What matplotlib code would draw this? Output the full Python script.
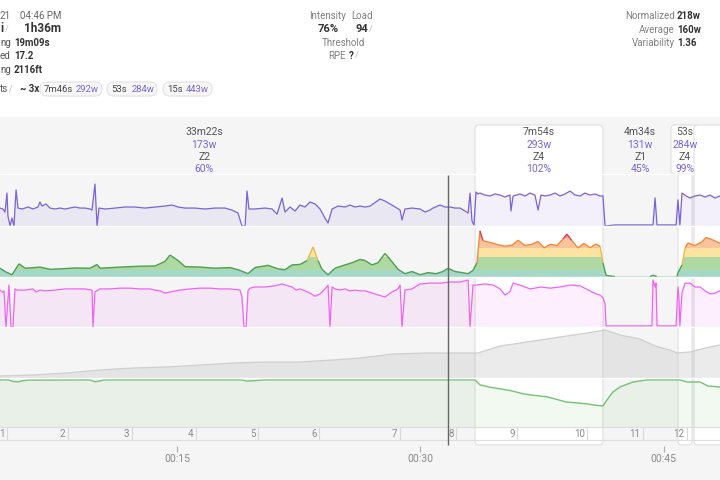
import numpy as np
import matplotlib
matplotlib.use('Agg')
from matplotlib import pyplot
from matplotlib.patches import FancyBboxPatch, Polygon
from matplotlib.collections import LineCollection

# time axis is elapsed minutes
power_t = [4.10, 4.28, 4.41, 4.53, 4.59, 4.72, 4.84, 4.96, 5.09, 5.21,
           5.46, 5.83, 6.13, 6.44, 6.56, 6.69, 6.93, 7.18, 7.49, 7.80,
           8.10, 8.41, 8.72, 9.03, 9.34, 9.65, 9.77, 9.95, 10.08, 10.20,
           10.57, 11.19, 11.80, 12.42, 13.03, 13.65, 14.27, 14.70, 15.07, 15.50,
           16.11, 16.73, 17.35, 17.96, 18.39, 18.76, 19.01, 19.20, 19.32, 19.44,
           19.81, 20.43, 20.86, 21.17, 21.48, 21.66, 21.97, 22.28, 22.58, 22.89,
           23.20, 23.51, 23.82, 24.12, 24.31, 24.56, 24.93, 25.36, 25.66, 25.97,
           26.28, 26.59, 26.90, 27.51, 27.82, 28.25, 28.75, 28.87, 29.05, 29.48,
           29.98, 30.29, 30.59, 30.78, 31.21, 31.52, 31.83, 32.13, 32.44, 32.75,
           32.94, 33.06, 33.18, 33.30, 33.43, 33.55, 33.67, 33.98, 34.29, 34.60,
           34.91, 35.21, 35.52, 35.58, 35.71, 36.14, 36.45, 36.76, 37.06, 37.25,
           37.43, 37.68, 37.99, 38.30, 38.60, 38.91, 39.22, 39.53, 39.84, 40.14,
           40.45, 40.76, 41.07, 41.25, 41.38, 41.99, 44.15, 44.33, 44.46, 44.58,
           45.75, 45.87, 45.99, 46.12, 46.37, 46.61, 46.92, 47.23, 47.54, 47.85,
           48.15, 48.46]
power_w = [171, 162, 133, 314, 95, 0, 76, 0, 343, 171,
           162, 181, 162, 181, 229, 190, 210, 171, 162, 171,
           162, 171, 181, 171, 171, 162, 152, 400, 0, 171,
           162, 171, 181, 181, 171, 181, 190, 200, 181, 171,
           171, 162, 171, 171, 152, 124, 0, 0, 333, 162,
           162, 171, 162, 114, 267, 133, 181, 143, 200, 181,
           229, 210, 162, 76, 29, 162, 190, 181, 200, 181,
           190, 181, 190, 257, 238, 200, 152, 57, 162, 171,
           162, 133, 152, 171, 200, 181, 181, 171, 171, 143,
           124, 314, 48, 10, 324, 305, 314, 295, 286, 305,
           295, 276, 295, 143, 286, 305, 286, 314, 295, 152,
           295, 286, 295, 314, 286, 305, 333, 295, 286, 314,
           295, 305, 286, 286, 0, 10, 10, 10, 267, 10,
           10, 248, 10, 314, 286, 267, 286, 295, 276, 295,
           267, 286]

# smoothed power, coloured by zone
smooth_t = [4.10, 4.41, 4.84, 5.27, 5.64, 6.26, 6.56, 7.18, 7.80, 8.72,
            9.65, 10.08, 10.26, 11.49, 12.73, 13.65, 14.27, 14.57, 15.07, 15.50,
            16.42, 17.35, 18.27, 18.89, 19.38, 19.81, 20.61, 21.23, 21.66, 22.09,
            22.58, 23.02, 23.39, 23.69, 23.94, 24.31, 24.74, 25.36, 25.79, 26.28,
            26.59, 27.02, 27.39, 27.82, 28.25, 28.62, 29.05, 29.48, 29.98, 30.47,
            30.96, 31.39, 31.70, 32.13, 32.57, 32.94, 33.24, 33.49, 33.67, 33.86,
            34.29, 34.78, 35.21, 35.65, 36.02, 36.45, 36.88, 37.25, 37.62, 37.99,
            38.42, 38.79, 39.03, 39.34, 39.71, 40.08, 40.45, 40.82, 41.07, 41.25,
            41.44, 41.99, 44.15, 44.33, 44.58, 45.81, 45.87, 46.12, 46.31, 46.49,
            46.92, 47.35, 47.60, 47.97, 48.46]
smooth_w = [165, 150, 135, 185, 165, 168, 170, 160, 162, 166,
            165, 182, 165, 170, 174, 175, 196, 225, 200, 172,
            170, 165, 168, 155, 140, 168, 178, 162, 158, 180,
            182, 200, 262, 200, 160, 135, 165, 180, 190, 205,
            200, 180, 190, 232, 195, 160, 140, 150, 135, 145,
            140, 150, 165, 150, 145, 140, 155, 190, 335, 290,
            282, 272, 265, 270, 292, 268, 274, 287, 257, 274,
            268, 298, 320, 290, 257, 278, 258, 275, 265, 190,
            132, 127, 127, 133, 127, 127, 145, 180, 257, 280,
            268, 285, 305, 295, 278]
zone_edges = [125, 158, 215, 258, 301, 400]

hr_t = [4.10, 4.28, 4.35, 4.47, 4.65, 4.78, 4.90, 5.02, 5.15, 5.64,
        6.13, 6.32, 6.56, 6.87, 7.49, 8.10, 8.72, 9.34, 9.77, 9.83,
        9.95, 10.26, 10.88, 11.49, 12.11, 12.73, 13.34, 13.65, 13.96, 14.27,
        14.57, 15.19, 15.81, 16.42, 17.04, 17.66, 18.27, 18.89, 19.01, 19.13,
        19.26, 19.38, 19.50, 19.81, 20.43, 21.04, 21.48, 21.84, 22.09, 22.34,
        22.58, 22.89, 23.20, 23.51, 23.82, 24.12, 24.31, 24.43, 24.56, 24.74,
        25.05, 25.36, 25.66, 25.97, 26.28, 26.59, 27.82, 28.25, 28.62, 28.75,
        28.87, 29.05, 29.48, 29.98, 30.59, 31.21, 31.83, 32.44, 32.94, 33.06,
        33.24, 33.43, 33.98, 34.48, 34.91, 35.21, 35.52, 35.71, 36.14, 36.76,
        37.43, 37.99, 38.60, 39.22, 39.84, 40.45, 40.82, 41.07, 41.25, 41.38,
        41.44, 44.27, 44.33, 44.46, 44.52, 44.58, 45.75, 45.87, 45.93, 45.99,
        46.12, 46.31, 46.61, 46.92, 47.23, 47.54, 47.85, 48.15, 48.46]
hr_bpm = [156, 150, 154, 60, 169, 60, 60, 159, 156, 156,
          159, 151, 156, 154, 156, 159, 159, 159, 156, 60,
          151, 159, 159, 161, 161, 159, 159, 156, 154, 148,
          151, 156, 159, 161, 161, 159, 159, 156, 138, 60,
          60, 154, 161, 164, 164, 167, 172, 167, 164, 156,
          159, 154, 148, 140, 146, 159, 169, 60, 164, 159,
          156, 159, 154, 156, 154, 154, 138, 151, 159, 169,
          60, 156, 159, 172, 174, 174, 177, 177, 182, 60,
          169, 169, 172, 169, 159, 143, 152, 174, 169, 159,
          164, 161, 164, 169, 167, 154, 146, 143, 136, 120,
          63, 63, 182, 164, 174, 63, 63, 164, 140, 63,
          150, 174, 174, 164, 164, 154, 146, 148, 154]

alt_t = [4.10, 6.13, 8.23, 10.26, 12.29, 14.39, 16.42, 18.46, 20.55, 22.58,
         24.62, 26.28, 28.31, 30.41, 32.44, 33.55, 34.91, 36.57, 38.60, 40.27,
         41.38, 42.30, 43.53, 44.46, 45.38, 45.81, 46.61, 47.54, 48.46]
alt_ft = [510, 515, 525, 540, 550, 555, 565, 575, 580, 580,
          590, 600, 620, 625, 625, 625, 660, 680, 705, 725,
          740, 715, 695, 660, 640, 625, 630, 650, 665]

wbal_t = [4.10, 4.59, 4.96, 5.27, 5.46, 5.83, 9.65, 9.95, 10.26, 10.57,
          19.01, 19.32, 19.81, 20.43, 33.37, 33.67, 34.29, 34.91, 35.52, 36.40,
          37.06, 37.80, 38.30, 38.99, 39.53, 40.27, 40.76, 41.25, 41.50, 41.87,
          42.30, 43.10, 43.96, 45.99, 46.43, 47.23, 47.72, 48.46]
wbal_kj = [20.0, 20.0, 19.3, 19.2, 19.6, 19.9, 20.0, 19.2, 19.6, 20.0,
           20.0, 19.5, 19.7, 20.0, 20.0, 17.9, 16.9, 16.2, 15.5, 14.0,
           13.4, 12.8, 11.9, 10.6, 10.3, 9.8, 9.3, 8.9, 11.5, 14.9,
           17.0, 19.1, 20.0, 20.0, 19.1, 19.1, 17.4, 17.0]

lap_end = [4.53, 8.29, 12.23, 16.18, 20.0, 23.76, 28.75, 32.2, 35.95, 40.27, 43.72, 46.43]
lap_label = ['1', '2', '3', '4', '5', '6', '7', '8', '9', '10', '11', '12']

interval_start = [0.0, 33.37, 41.25, 45.87, 46.86]
interval_end = [33.37, 41.25, 45.82, 46.74, 52.0]
interval_work = [False, True, False, True, True]
interval_time = ['33m22s', '7m54s', '4m34s', '53s', '']
interval_watts = ['173w', '293w', '131w', '284w', '']
interval_zone = ['Z2', 'Z4', 'Z1', 'Z4', '']
interval_pct = ['60%', '102%', '45%', '99%', '']

best_time = ['7m46s', '53s', '15s']
best_watts = ['292w', '284w', '443w']

time_ticks = [15, 30, 45]
time_labels = ['00:15', '00:30', '00:45']
cursor_t = 31.70

W, H = 720, 480
T_MIN, T_MAX = 4.1, 48.46
BG = '#f5f5f5'
PURPLE = '#7b63d6'
DARK = '#333333'
GREY = '#808080'
ZONE_FILL = ['#a5d8c6', '#aed9a2', '#fce3a2', '#f9c39d', '#e59ba7']
ZONE_LINE = ['#4c9f58', '#4c9f50', '#f0b94a', '#f28a3a', '#d9414f']


def panel(fig, top, bottom):
    ax = fig.add_axes([0, 1 - bottom / H, 1, (bottom - top) / H])
    ax.set_xlim(T_MIN, T_MAX)
    ax.set_facecolor('none')
    ax.set_xticks([])
    ax.set_yticks([])
    for s in ax.spines.values():
        s.set_visible(False)
    return ax


def txt(fig, x, y, s, **kw):
    kw.setdefault('fontsize', 7)
    kw.setdefault('color', DARK)
    fig.text(x / W, 1 - y / H, s, va='center', **kw)


def pill(fig, x0, x1, y0, y1):
    p = FancyBboxPatch((x0 / 100, (H - y1) / 100), (x1 - x0) / 100, (y1 - y0) / 100,
                       boxstyle='round,pad=0,rounding_size=0.07',
                       transform=fig.dpi_scale_trans, fc='#f7f7f7', ec='#e2e2e2', lw=0.8)
    fig.add_artist(p)


def header(fig):
    pen = dict(color='#bbbbbb', fontsize=6.5)
    txt(fig, 0, 16, '21', color='#666666')
    txt(fig, 20, 16, '04:46 PM', color='#666666')
    txt(fig, 0, 29, 'i', fontsize=8.5, fontweight='bold')
    txt(fig, 5, 29, '/', **pen)
    txt(fig, 24, 29, '1h36m', fontsize=8.5, fontweight='bold')
    txt(fig, 0, 43, 'ng', color='#555555')
    txt(fig, 14, 43, '19m09s', fontweight='bold')
    txt(fig, 0, 56, 'ed', color='#555555')
    txt(fig, 14, 56, '17.2', fontweight='bold')
    txt(fig, 0, 70, 'ng', color='#555555')
    txt(fig, 14, 70, '2116ft', fontweight='bold')
    txt(fig, 0, 89, 'ts', color='#555555')
    txt(fig, 9, 89, '/', **pen)
    txt(fig, 20, 89, '~ 3x', fontweight='bold')
    edges = [(40, 102), (107, 157), (163, 212)]
    for (x0, x1), a, b in zip(edges, best_time, best_watts):
        pill(fig, x0, x1, 82, 96)
        txt(fig, x0 + 4, 89, a, color='#444444', fontsize=6.8)
        txt(fig, x1 - 3, 89, b, color=PURPLE, ha='right', fontsize=6.8)

    txt(fig, 328, 16, 'Intensity', color=GREY, ha='center')
    txt(fig, 362, 16, 'Load', color=GREY, ha='center')
    txt(fig, 328, 29, '76%', fontsize=8, fontweight='bold', ha='center')
    txt(fig, 362, 29, '94', fontsize=8, fontweight='bold', ha='center')
    txt(fig, 369, 29, '/', **pen)
    txt(fig, 343, 43, 'Threshold', color=GREY, ha='center')
    txt(fig, 346, 56, 'RPE', color=GREY, ha='right')
    txt(fig, 349, 56, '?', fontweight='bold')
    txt(fig, 355, 56, '/', **pen)

    for y, a, b in [(16, 'Normalized', '218w'), (30, 'Average', '160w'), (43, 'Variability', '1.36')]:
        txt(fig, 675, y, a, color=GREY, ha='right')
        txt(fig, 677, y, b, fontweight='bold')


def main():
    pyplot.rcParams['font.family'] = ['Roboto', 'DejaVu Sans']
    fig = pyplot.figure(figsize=(W / 100, H / 100), dpi=100)
    fig.patch.set_facecolor('white')
    header(fig)

    # background, interval boxes and interval labels (y in pixels)
    bg = panel(fig, 117, 480)
    bg.set_facecolor(BG)
    bg.set_ylim(480, 117)
    for s, e, work in zip(interval_start, interval_end, interval_work):
        if not work:
            continue
        bg.add_patch(FancyBboxPatch((s, 125), e - s, 320,
                                    boxstyle='round,pad=0,rounding_size=0.25', mutation_aspect=16,
                                    fc='white', ec='#e0e0e0', lw=0.8))
        if e - s < 1.73:
            c = (s + e) / 2
            bg.add_patch(FancyBboxPatch((c - 0.865, 125), 1.73, 49,
                                        boxstyle='round,pad=0,rounding_size=0.25', mutation_aspect=16,
                                        fc='white', ec='#e0e0e0', lw=0.8))
    for s, e, a, b, z, p in zip(interval_start, interval_end, interval_time,
                                interval_watts, interval_zone, interval_pct):
        c = (s + e) / 2
        kw = dict(ha='center', va='center', fontsize=7.5, clip_on=True)
        bg.text(c, 132, a, color='#555555', **kw)
        bg.text(c, 144.5, b, color=PURPLE, **kw)
        bg.text(c, 157, z, color='#555555', **kw)
        bg.text(c, 168.5, p, color=PURPLE, **kw)

    # power
    ax = panel(fig, 175, 226)
    ax.set_ylim(0, 486)
    ax.fill_between(power_t, 0, power_w, color=PURPLE, alpha=0.09, lw=0)
    ax.plot(power_t, power_w, color=PURPLE, lw=0.9)

    # smoothed power with zone bands
    ax = panel(fig, 226, 277)
    ax.set_ylim(125, 357)
    t = np.array(smooth_t)
    v = np.array(smooth_w)
    verts = np.vstack([np.column_stack([t, v]), [[t[-1], 125], [t[0], 125]]])
    clip = Polygon(verts, closed=True, fc='none', ec='none')
    ax.add_patch(clip)
    for lo, hi, c in zip(zone_edges[:-1], zone_edges[1:], ZONE_FILL):
        band = ax.axhspan(lo, hi, color=c, lw=0)
        band.set_clip_path(clip)
    pts = np.column_stack([t, v])
    segs = np.stack([pts[:-1], pts[1:]], axis=1)
    idx = np.digitize((v[:-1] + v[1:]) / 2, zone_edges[1:-1])
    ax.add_collection(LineCollection(segs, colors=[ZONE_LINE[i] for i in idx], lw=1.0))

    # heart rate
    ax = panel(fig, 277, 327)
    ax.set_ylim(60, 190)
    ax.fill_between(hr_t, 60, hr_bpm, color='#ee55ee', alpha=0.09, lw=0)
    ax.plot(hr_t, hr_bpm, color='#f164f1', lw=0.9)

    # altitude
    ax = panel(fig, 327, 378)
    ax.set_ylim(500, 755)
    ax.fill_between(alt_t, 500, alt_ft, color='#bdbdbd', alpha=0.3, lw=0)
    ax.plot(alt_t, alt_ft, color='#cfcfcf', lw=0.9)

    # w' balance
    ax = panel(fig, 378, 427)
    ax.set_ylim(0, 20.8)
    ax.fill_between(wbal_t, 0, wbal_kj, color='#6cbf6c', alpha=0.09, lw=0)
    ax.plot(wbal_t, wbal_kj, color='#74c274', lw=1.0)

    # laps
    ax = panel(fig, 427, 440)
    ax.set_ylim(0, 1)
    for side in ('top', 'bottom'):
        ax.spines[side].set_visible(True)
        ax.spines[side].set_color('#dddddd')
        ax.spines[side].set_linewidth(0.8)
    ax.vlines(lap_end, 0, 1, color='#d8d8d8', lw=0.8)
    for x, s in zip(lap_end, lap_label):
        ax.text(x - 0.15, 0.45, s, ha='right', va='center', fontsize=7, color='#8a8a8a')

    # time axis
    ax = panel(fig, 441, 446)
    ax.set_xticks(time_ticks)
    ax.set_xticklabels(time_labels)
    ax.tick_params(axis='x', direction='out', length=4, width=0.8, color='#aaaaaa',
                   labelsize=7.5, labelcolor='#888888', pad=2)

    # separators and cursor on top
    top = panel(fig, 117, 480)
    top.set_ylim(480, 117)
    top.hlines([174, 226, 277, 327, 378], T_MIN, T_MAX, color='white', lw=1.0)
    top.vlines(cursor_t, 175, 445, color='#666666', lw=1.0)

    fig.savefig('out.png', dpi=100)
    pyplot.close(fig)


if __name__ == '__main__':
    main()
